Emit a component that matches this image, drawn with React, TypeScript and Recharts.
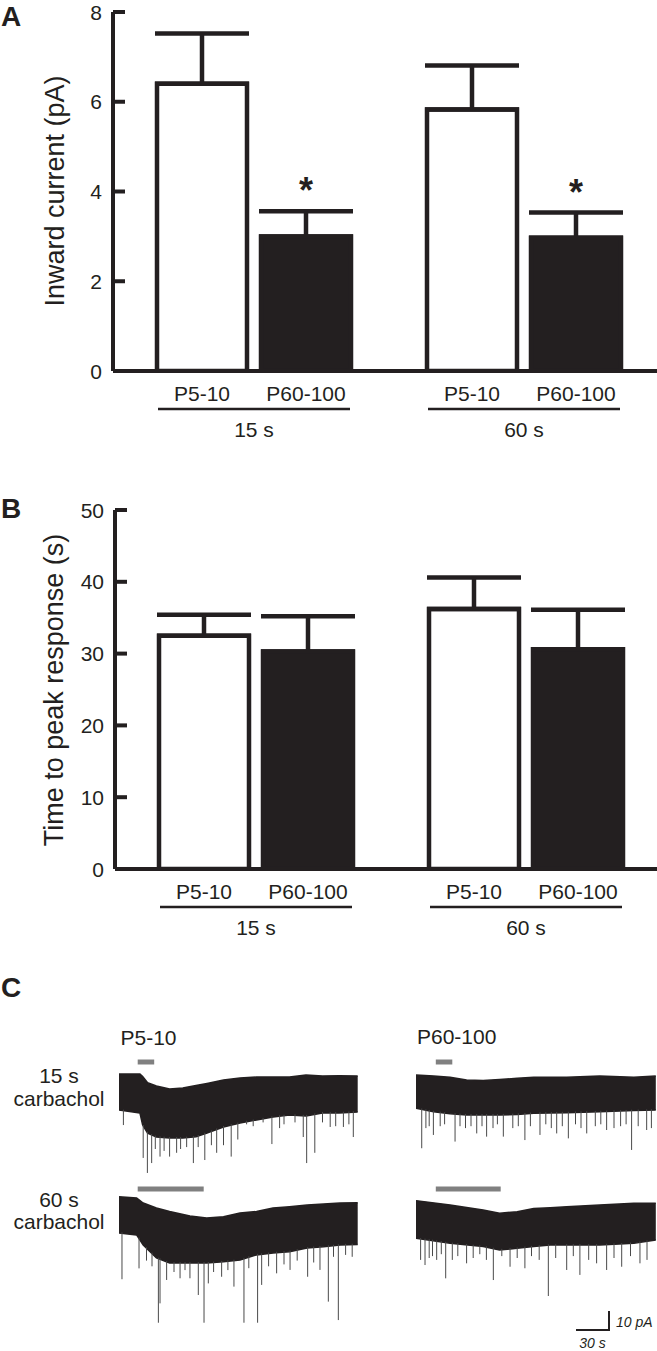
import React from 'react';
import {
  BarChart,
  Bar,
  XAxis,
  YAxis,
  ErrorBar,
  LabelList,
  ComposedChart,
  Area,
  Line,
  ReferenceLine,
  ReferenceDot,
} from 'recharts';

const FONT = '"Liberation Sans", Arial, Helvetica, sans-serif';
const INK = '#231f20';
const GREY = '#808080';

// ---------- Panels A and B (bar charts) ----------
const GROUPS = ['15 s', '60 s'];
const AGES = ['P5-10', 'P60-100'];

const A_TICKS = [0, 2, 4, 6, 8];
const A_YOUNG = [6.4, 5.83];
const A_YOUNG_SEM = [1.12, 0.98];
const A_ADULT = [3.0, 2.97];
const A_ADULT_SEM = [0.56, 0.56];
const A_SIGNIFICANT = [true, true];

const B_TICKS = [0, 10, 20, 30, 40, 50];
const B_YOUNG = [32.5, 36.2];
const B_YOUNG_SEM = [2.9, 4.4];
const B_ADULT = [30.3, 30.6];
const B_ADULT_SEM = [4.9, 5.5];
const B_SIGNIFICANT = [false, false];

// ---------- Panel C (current traces): [time s, upper pA, lower pA] ----------
const TRACE_15S_P5_ENVELOPE: [number, number, number][] = [
  [0, 9.5, -9.5], [19, 9.5, -11], [21.5, 8.1, -17.4], [26, 4.9, -21.6], [34, 3.2, -23.7],
  [46, 1.6, -24.2], [58, 2.1, -24.2], [70, 3.4, -23.5], [80, 4.5, -21.6], [95, 6.3, -18.4],
  [110, 7.4, -16.3], [125, 7.9, -14.7], [140, 7.9, -13.2], [155, 7.9, -12.1], [170, 8.9, -12.6],
  [185, 8.4, -11], [200, 8.6, -11], [217, 8.4, -10.5],
];
const TRACE_15S_P5_SPIKES: [number, number][] = [
  [4, -17.4], [22, -34.7], [25.8, -42.6], [29.7, -37.4], [33, -30], [37.3, -34], [41, -31],
  [46, -34], [52.4, -32], [56, -30], [61.5, -29], [67.6, -37.4], [72, -29], [78, -35.8],
  [84, -28], [88.8, -32], [95, -28], [102, -34], [108, -25], [116, -17], [122, -18], [131, -16],
  [139, -27.4], [146, -19], [150, -17], [160, -16], [167.5, -23.7], [170.6, -37.4], [178, -32],
  [185, -16], [192, -18.4], [197, -18], [204, -18.4], [209, -17], [213, -23.7],
];

const TRACE_15S_P60_ENVELOPE: [number, number, number][] = [
  [0, 8.9, -8.6], [16, 8.4, -10.4], [31, 7.7, -11.5], [46, 6.3, -12.1], [61, 6.0, -12.1],
  [76, 6.6, -12.1], [92, 7.2, -11.8], [107, 7.7, -11.2], [137, 7.7, -10.9], [167, 8.4, -10.4],
  [198, 7.7, -9.8], [218, 8.4, -9.5],
];
const TRACE_15S_P60_SPIKES: [number, number][] = [
  [5.2, -29.6], [9, -19], [12, -18], [15.8, -22.6], [22, -18], [26, -17], [35.5, -26.1],
  [40, -18], [45, -19], [50, -18], [55.2, -21.8], [60, -18], [64.2, -23.5], [70, -19],
  [74, -17], [79.4, -23.5], [88, -19], [93, -18], [99, -25.3], [104, -18], [112.7, -22.6],
  [118, -17], [123, -19], [127.9, -21.8], [133, -18], [138.5, -24.4], [145, -17], [150, -19],
  [155.2, -21.8], [163, -18], [168, -17], [173.3, -20], [180, -19], [186, -18], [191, -17],
  [196, -30.5], [202, -18], [209.7, -20], [214, -19],
];

const TRACE_60S_P5_ENVELOPE: [number, number, number][] = [
  [0, 9.6, -9.5], [16, 8.9, -10.5], [22, 6.3, -15.8], [34, 3.7, -22.6], [46, 1.8, -25.3],
  [64.5, -0.5, -25.3], [79.7, -1.6, -25.3], [95, -0.9, -24.6], [110, 1.0, -23.7], [125, 1.8, -21],
  [140, 3.7, -20], [155, 4.4, -19.3], [171, 5.3, -17.4], [186, 5.8, -16.7], [201, 6.3, -15.8],
  [217, 6.5, -15.5],
];
const TRACE_60S_P5_SPIKES: [number, number][] = [
  [2.7, -33.8], [18.2, -28.1], [25, -24], [30, -27], [35.8, -56.7], [37.3, -46.5], [43.3, -34.2],
  [50, -30], [55.5, -33.3], [60, -29], [64.5, -33.3], [72.1, -42.1], [77.3, -56.7], [81.2, -36],
  [86, -30], [93.3, -32.5], [99, -29], [104.5, -37.7], [113.6, -56.7], [118, -28], [126, -56.7],
  [129.7, -36.8], [136, -27], [143.3, -30.7], [150, -26], [155.5, -28.9], [162, -24],
  [171.5, -32.5], [177, -25], [182.7, -28.9], [190.3, -45.6], [195, -22], [199.4, -55.3],
  [206, -21], [212, -22],
];

const TRACE_60S_P60_ENVELOPE: [number, number, number][] = [
  [0, 10.2, -9.6], [31, 7.9, -12.3], [61, 5.3, -14], [76, 3.5, -15.8], [92, 4.4, -14.9],
  [107, 6.1, -14], [122, 6.5, -13.2], [137, 7.0, -13.2], [167, 7.9, -13.2], [198, 8.8, -12.3],
  [218, 8.8, -10.5],
];
const TRACE_60S_P60_SPIKES: [number, number][] = [
  [4.2, -21], [8.2, -23.7], [12, -20], [15, -19], [18.8, -21], [23, -18], [27, -30.7],
  [33, -21], [38, -19], [46, -22.8], [52, -20], [58, -18], [64, -21], [70.3, -31.6], [78, -19],
  [85.5, -24.6], [92, -20], [99, -25.4], [105, -19], [112, -21], [120.3, -40], [127, -20],
  [137, -26.3], [143, -19], [149, -28.9], [157, -21], [164.2, -22.8], [173.3, -26.3], [180, -20],
  [187, -24.6], [195, -19], [203.6, -22.8], [210, -21],
];

// carbachol application windows [start s, end s]
const APPLICATION_15S_P5: [number, number] = [17, 32];
const APPLICATION_60S_P5: [number, number] = [17, 77];
const APPLICATION_15S_P60: [number, number] = [18, 33];
const APPLICATION_60S_P60: [number, number] = [18, 77];

const SCALE_TIME = 30; // s
const SCALE_CURRENT = 10; // pA

const PX_PER_S = 1.1;
const PX_PER_PA = 1.9;

// ---------- helpers ----------
function boxOf(props: any) {
  const vb = props && props.viewBox && props.viewBox.width != null ? props.viewBox : props;
  return {
    x: Number(vb.x),
    y: Number(vb.y),
    width: Number(vb.width),
    height: Number(vb.height),
  };
}

// lower edge of the envelope at time t (linear between read points)
function lowerEdgeAt(env: [number, number, number][], t: number) {
  for (let i = 0; i < env.length - 1; i++) {
    const [t0, , l0] = env[i];
    const [t1, , l1] = env[i + 1];
    if (t >= t0 && t <= t1) return l0 + ((l1 - l0) * (t - t0)) / (t1 - t0);
  }
  return env[env.length - 1][2];
}

const ValueTick = (props: any) => {
  const { x, y, payload } = props;
  return (
    <g>
      <line x1={x} x2={x + 12} y1={y} y2={y} stroke={INK} strokeWidth={4} />
      <text x={x - 11} y={y} dy="0.36em" textAnchor="end" fontSize={21} fontFamily={FONT} fill={INK}>
        {payload.value}
      </text>
    </g>
  );
};

const GroupTick = (props: any) => {
  const { x, y, payload } = props;
  return (
    <g>
      <line x1={x - 96} x2={x + 96} y1={y + 38} y2={y + 38} stroke={INK} strokeWidth={2.5} />
      <text x={x} y={y + 66} textAnchor="middle" fontSize={21} fontFamily={FONT} fill={INK}>
        {payload.value}
      </text>
    </g>
  );
};

const nameLabel = (name: string) => (props: any) => {
  const b = boxOf(props);
  return (
    <text
      key={`n-${name}-${props.index}`}
      x={b.x + b.width / 2}
      y={b.y + b.height + 30}
      textAnchor="middle"
      fontSize={21}
      fontFamily={FONT}
      fill={INK}
    >
      {name}
    </text>
  );
};

const starLabel = (values: number[], sems: number[], sig: boolean[]) => (props: any) => {
  const i = props.index;
  if (!sig[i]) return null;
  const b = boxOf(props);
  const pxPerUnit = b.height / values[i];
  const capY = b.y - sems[i] * pxPerUnit;
  return (
    <text
      key={`s-${i}`}
      x={b.x + b.width / 2}
      y={capY - 8}
      textAnchor="middle"
      fontSize={36}
      fontWeight="bold"
      fontFamily={FONT}
      fill={INK}
    >
      *
    </text>
  );
};

function BarPanel(p: {
  top: number;
  chartHeight: number;
  marginTop: number;
  axisX: number;
  xAxisHeight: number;
  yMax: number;
  ticks: number[];
  young: number[];
  youngSem: number[];
  adult: number[];
  adultSem: number[];
  sig: boolean[];
}) {
  const data = GROUPS.map((g, i) => ({
    group: g,
    young: p.young[i],
    youngErr: [0, p.youngSem[i]],
    adult: p.adult[i],
    adultErr: [0, p.adultSem[i]],
  }));
  return (
    <div style={{ position: 'absolute', left: 0, top: p.top }}>
      <BarChart
        width={p.axisX + 546}
        height={p.chartHeight}
        data={data}
        margin={{ top: p.marginTop, right: 0, bottom: 0, left: 0 }}
        barGap={14}
      >
        <XAxis
          dataKey="group"
          height={p.xAxisHeight}
          tickSize={0}
          tickMargin={0}
          tickLine={false}
          axisLine={{ stroke: INK, strokeWidth: 4 }}
          tick={<GroupTick />}
          interval={0}
          padding={{ left: 6, right: 0 }}
        />
        <YAxis
          domain={[0, p.yMax]}
          ticks={p.ticks}
          width={p.axisX}
          tickSize={0}
          tickMargin={0}
          tickLine={false}
          axisLine={{ stroke: INK, strokeWidth: 4 }}
          tick={<ValueTick />}
          interval={0}
          allowDataOverflow
        />
        <Bar dataKey="young" fill="#ffffff" stroke={INK} strokeWidth={4.5} barSize={90} isAnimationActive={false}>
          <ErrorBar dataKey="youngErr" width={47} strokeWidth={4.5} stroke={INK} direction="y" />
          <LabelList dataKey="young" content={nameLabel(AGES[0])} />
        </Bar>
        <Bar dataKey="adult" fill={INK} stroke={INK} strokeWidth={4.5} barSize={90} isAnimationActive={false}>
          <ErrorBar dataKey="adultErr" width={47} strokeWidth={4.5} stroke={INK} direction="y" />
          <LabelList dataKey="adult" content={nameLabel(AGES[1])} />
          <LabelList dataKey="adult" content={starLabel(p.adult, p.adultSem, p.sig)} />
        </Bar>
      </BarChart>
    </div>
  );
}

function TracePanel(p: {
  left: number;
  top: number;
  width: number;
  height: number;
  zeroY: number;
  envelope: [number, number, number][];
  spikes: [number, number][];
  application: [number, number];
}) {
  const yMax = (p.zeroY - p.top) / PX_PER_PA;
  const yMin = yMax - p.height / PX_PER_PA;
  const xMax = p.width / PX_PER_S;
  const env = p.envelope.map(([t, hi, lo]) => ({ t, band: [lo, hi] }));
  const spikeData: { t: number; v: number | null }[] = [];
  p.spikes.forEach(([t, d]) => {
    spikeData.push({ t, v: lowerEdgeAt(p.envelope, t) + 0.5 });
    spikeData.push({ t, v: d });
    spikeData.push({ t, v: null });
  });
  const barLevel = yMax - 4 / PX_PER_PA;
  return (
    <div style={{ position: 'absolute', left: p.left, top: p.top }}>
      <ComposedChart width={p.width} height={p.height} margin={{ top: 0, right: 0, bottom: 0, left: 0 }}>
        <XAxis type="number" dataKey="t" domain={[0, xMax]} hide allowDataOverflow />
        <YAxis type="number" domain={[yMin, yMax]} hide allowDataOverflow />
        <Area
          data={env}
          dataKey="band"
          type="linear"
          stroke={INK}
          strokeWidth={1.5}
          fill={INK}
          fillOpacity={1}
          dot={false}
          activeDot={false}
          isAnimationActive={false}
        />
        <Line
          data={spikeData}
          dataKey="v"
          type="linear"
          stroke="#4a4a4a"
          strokeWidth={1}
          dot={false}
          activeDot={false}
          connectNulls={false}
          isAnimationActive={false}
        />
        <ReferenceLine
          segment={[
            { x: p.application[0], y: barLevel },
            { x: p.application[1], y: barLevel },
          ]}
          stroke={GREY}
          strokeWidth={5}
        />
      </ComposedChart>
    </div>
  );
}

function ScaleBar() {
  const left = 560;
  const top = 1300;
  const width = 97;
  const height = 51;
  const originX = 576;
  const originY = 1330;
  const xMin = -(originX - left) / PX_PER_S;
  const xMax = xMin + width / PX_PER_S;
  const yMax = (originY - top) / PX_PER_PA;
  const yMin = yMax - height / PX_PER_PA;
  const data = [
    { t: 0, v: 0 },
    { t: SCALE_TIME, v: 0 },
    { t: SCALE_TIME, v: SCALE_CURRENT },
  ];
  return (
    <div style={{ position: 'absolute', left, top }}>
      <ComposedChart width={width} height={height} margin={{ top: 0, right: 0, bottom: 0, left: 0 }}>
        <XAxis type="number" dataKey="t" domain={[xMin, xMax]} hide allowDataOverflow />
        <YAxis type="number" domain={[yMin, yMax]} hide allowDataOverflow />
        <Line data={data} dataKey="v" type="linear" stroke={INK} strokeWidth={2} dot={false} activeDot={false} isAnimationActive={false} />
        <ReferenceDot
          x={SCALE_TIME}
          y={SCALE_CURRENT * 0.4}
          r={0}
          fill="none"
          stroke="none"
          label={{ value: `${SCALE_CURRENT} pA`, position: 'right', offset: 7, fontSize: 14, fontStyle: 'italic', fill: INK, fontFamily: FONT }}
        />
        <ReferenceDot
          x={SCALE_TIME / 2}
          y={0}
          r={0}
          fill="none"
          stroke="none"
          label={{ value: `${SCALE_TIME} s`, position: 'bottom', offset: 8, fontSize: 14, fontStyle: 'italic', fill: INK, fontFamily: FONT }}
        />
      </ComposedChart>
    </div>
  );
}

export default function App() {
  const t21 = { fontSize: 21, fontFamily: FONT, fill: INK } as const;
  const panelLetter = { fontSize: 28, fontWeight: 'bold', fontFamily: FONT, fill: INK } as const;
  return (
    <div
      style={{
        position: 'absolute',
        left: 0,
        top: 0,
        width: 657,
        height: 1351,
        overflow: 'hidden',
        background: '#ffffff',
      }}
    >
      <BarPanel
        top={0}
        chartHeight={450}
        marginTop={12}
        axisX={113}
        xAxisHeight={79}
        yMax={8}
        ticks={A_TICKS}
        young={A_YOUNG}
        youngSem={A_YOUNG_SEM}
        adult={A_ADULT}
        adultSem={A_ADULT_SEM}
        sig={A_SIGNIFICANT}
      />
      <BarPanel
        top={490}
        chartHeight={460}
        marginTop={20}
        axisX={115}
        xAxisHeight={81}
        yMax={50}
        ticks={B_TICKS}
        young={B_YOUNG}
        youngSem={B_YOUNG_SEM}
        adult={B_ADULT}
        adultSem={B_ADULT_SEM}
        sig={B_SIGNIFICANT}
      />

      <TracePanel left={119} top={1058} width={239} height={120} zeroY={1092}
        envelope={TRACE_15S_P5_ENVELOPE} spikes={TRACE_15S_P5_SPIKES} application={APPLICATION_15S_P5} />
      <TracePanel left={416} top={1058} width={240} height={120} zeroY={1092}
        envelope={TRACE_15S_P60_ENVELOPE} spikes={TRACE_15S_P60_SPIKES} application={APPLICATION_15S_P60} />
      <TracePanel left={119} top={1185} width={239} height={145} zeroY={1215}
        envelope={TRACE_60S_P5_ENVELOPE} spikes={TRACE_60S_P5_SPIKES} application={APPLICATION_60S_P5} />
      <TracePanel left={416} top={1185} width={240} height={145} zeroY={1220}
        envelope={TRACE_60S_P60_ENVELOPE} spikes={TRACE_60S_P60_SPIKES} application={APPLICATION_60S_P60} />
      <ScaleBar />

      <svg
        width={657}
        height={1351}
        style={{ position: 'absolute', left: 0, top: 0, pointerEvents: 'none' }}
      >
        <text x={1} y={26} {...panelLetter}>A</text>
        <text x={1} y={518} {...panelLetter}>B</text>
        <text x={1} y={997} {...panelLetter}>C</text>

        <text x={54.5} y={191} transform="rotate(-90 54.5 191)" textAnchor="middle" dy="0.36em"
          fontSize={27} fontFamily={FONT} fill={INK}>Inward current (pA)</text>
        <text x={53} y={690} transform="rotate(-90 53 690)" textAnchor="middle" dy="0.36em"
          fontSize={27} fontFamily={FONT} fill={INK}>Time to peak response (s)</text>

        <text x={120.5} y={1045} {...t21}>{AGES[0]}</text>
        <text x={417} y={1044} {...t21}>{AGES[1]}</text>
        <text x={59} y={1083} textAnchor="middle" {...t21}>{GROUPS[0]}</text>
        <text x={59} y={1106} textAnchor="middle" {...t21}>carbachol</text>
        <text x={59} y={1207} textAnchor="middle" {...t21}>{GROUPS[1]}</text>
        <text x={59} y={1229} textAnchor="middle" {...t21}>carbachol</text>
      </svg>
    </div>
  );
}
